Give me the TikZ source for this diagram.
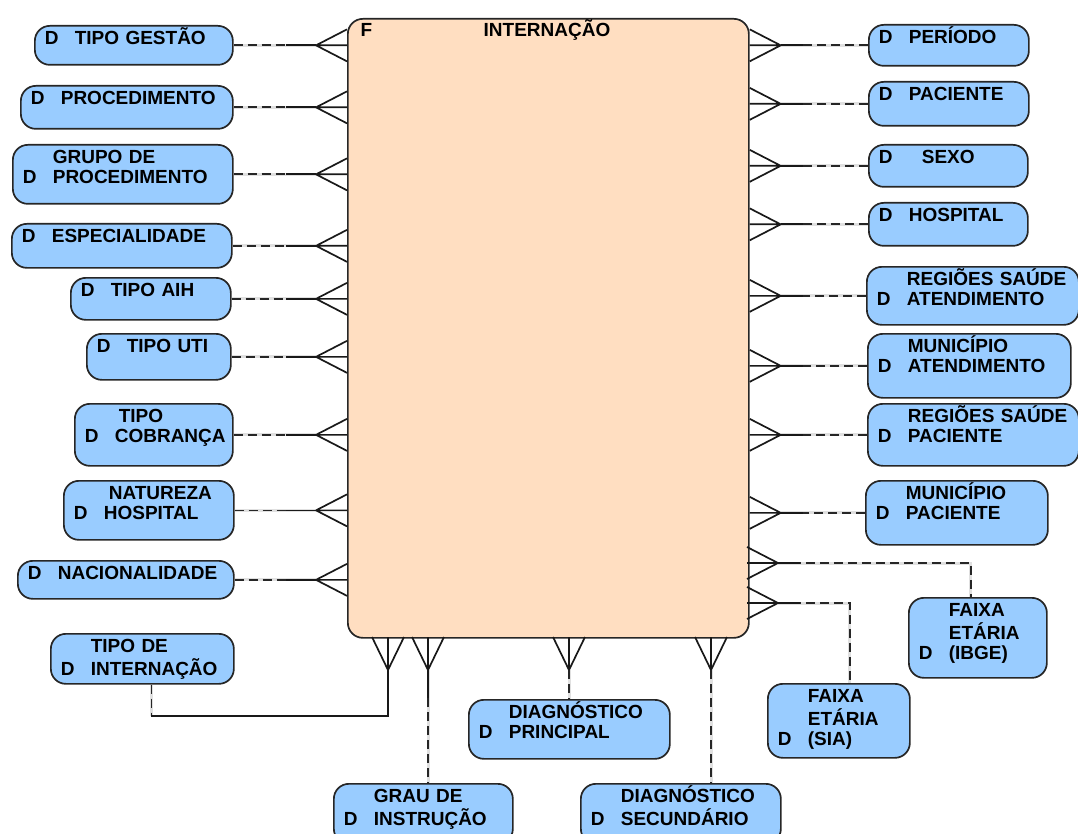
\documentclass[tikz,border=0pt]{standalone}
\usepackage{fontspec}
\setmainfont{Liberation Sans}
\usetikzlibrary{calc}
\definecolor{dimblue}{RGB}{153,204,255}
\definecolor{factpeach}{RGB}{255,222,193}
\newcommand{\dimone}[1]{\begin{tabular}[t]{@{}p{30pt}@{}l@{}}D & #1\end{tabular}}
\newcommand{\dimtwo}[2]{\begin{tabular}[t]{@{}p{30pt}@{}l@{}} & #1\\ D & #2\end{tabular}}
\newcommand{\dimthree}[3]{\begin{tabular}[t]{@{}p{30pt}@{}l@{}} & #1\\ & #2\\ D & #3\end{tabular}}
\begin{document}
\begin{tikzpicture}[x=1pt, y=-1pt, font=\fontsize{19}{20}\selectfont\bfseries,
  dim/.style={draw=black!85, fill=dimblue, line width=1.7pt, rounded corners=15pt, anchor=north west,
    inner xsep=10pt, inner ysep=5pt, align=left, text height=14pt},
  fact/.style={draw=black!85, fill=factpeach, line width=1.7pt, rounded corners=15pt, anchor=north west, inner sep=0pt},
  crow/.style={black!90, line width=1.7pt},
  rel/.style={black!85, line width=1.7pt, dash pattern=on 9pt off 5pt,
    preaction={draw=black!12, solid, line width=3pt}}]
\useasboundingbox (0,0) rectangle (1078,834);

% fact table
\node[fact, minimum width=401pt, minimum height=619pt] (fact) at (347,18) {};
\node[anchor=base west] (factF) at (357,37) {F};
\node[anchor=base] (facttitle) at (547,37) {INTERNAÇÃO};

% dimensions, left
\node[dim, text width=178pt, text depth=15pt] (tgestao) at (34,25) {\dimone{TIPO GESTÃO}};
\node[dim, text width=192pt, text depth=19pt] (proc) at (20,85) {\dimone{PROCEDIMENTO}};
\node[dim, text width=200pt, text depth=35pt] (gproc) at (12,144) {\dimtwo{GRUPO DE}{PROCEDIMENTO}};
\node[dim, text width=200pt, text depth=20pt] (espec) at (11,223) {\dimone{ESPECIALIDADE}};
\node[dim, text width=140pt, text depth=18pt] (aih) at (70,277) {\dimone{TIPO AIH}};
\node[dim, text width=124pt, text depth=22pt] (uti) at (86,333) {\dimone{TIPO UTI}};
\node[dim, text width=138pt, text depth=38pt] (cobr) at (74,403) {\dimtwo{\hspace{4pt}TIPO}{COBRANÇA}};
\node[dim, text width=150pt, text depth=35pt] (natur) at (63,480) {\dimtwo{\hspace{5pt}NATUREZA}{HOSPITAL}};
\node[dim, text width=196pt, text depth=14pt] (nacio) at (17,560) {\dimone{NACIONALIDADE}};
\node[dim, text width=163pt, text depth=26pt] (tinter) at (50,633) {\dimtwo{TIPO DE}{INTERNAÇÃO}};

% dimensions, right
\node[dim, text width=140pt, text depth=17pt] (periodo) at (868,24) {\dimone{PERÍODO}};
\node[dim, text width=140pt, text depth=20pt] (pac) at (868,81) {\dimone{PACIENTE}};
\node[dim, text width=139pt, text depth=18pt] (sexo) at (868,144) {\dimone{\hspace{13pt}SEXO}};
\node[dim, text width=139pt, text depth=19pt] (hosp) at (868,202) {\dimone{HOSPITAL}};
\node[dim, text width=192pt, text depth=34pt] (regat) at (866,266) {\dimtwo{REGIÕES SAÚDE}{ATENDIMENTO}};
\node[dim, text width=183pt, text depth=40pt] (munat) at (867,333) {\dimtwo{MUNICÍPIO}{ATENDIMENTO}};
\node[dim, text width=191pt, text depth=38pt] (regpac) at (867,403) {\dimtwo{REGIÕES SAÚDE}{PACIENTE}};
\node[dim, text width=162pt, text depth=40pt] (munpac) at (865,480) {\dimtwo{MUNICÍPIO}{PACIENTE}};
\node[dim, text width=118pt, text depth=56pt] (fxibge) at (908,597) {\dimthree{FAIXA}{ETÁRIA}{(IBGE)}};
\node[dim, text width=122pt, text depth=50pt] (fxsia) at (767,683) {\dimthree{FAIXA}{ETÁRIA}{(SIA)}};

% dimensions, bottom
\node[dim, text width=159pt, text depth=36pt] (grau) at (333,783) {\dimtwo{GRAU DE}{INSTRUÇÃO}};
\node[dim, text width=181pt, text depth=35pt] (dprin) at (468,699) {\dimtwo{DIAGNÓSTICO}{PRINCIPAL}};
\node[dim, text width=180pt, text depth=36pt] (dsec) at (580,783) {\dimtwo{DIAGNÓSTICO}{SECUNDÁRIO}};

% left relations
\foreach \n in {tgestao,proc,gproc,espec,aih,uti,cobr,natur,nacio}
{
\coordinate (\n-a) at ($(\n.east -| fact.west)+(-31,0)$);
\draw[rel] (\n.east) -- (\n-a);
\draw[crow] (\n-a) -- ++(-30,0);
\draw[crow] (\n-a) -- ++(31,-16) (\n-a) -- ++(31,0) (\n-a) -- ++(31,16);
}

% right relations
\foreach \n in {periodo,pac,sexo,hosp,regat,munat,regpac,munpac}
{
\coordinate (\n-a) at ($(\n.west -| fact.east)+(31,0)$);
\draw[rel] (\n.west) -- (\n-a);
\draw[crow] (\n-a) -- ++(22,0);
\draw[crow] (\n-a) -- ++(-31,-16) (\n-a) -- ++(-31,0) (\n-a) -- ++(-31,16);
}
\coordinate (fxibge-a) at (778,563);
\coordinate (fxsia-a) at (778,603);
\draw[rel] (fxibge-a) -| ([xshift=-7pt]fxibge.north);
\draw[rel] (fxsia-a) -| ([xshift=11pt]fxsia.north);
\foreach \n in {fxibge,fxsia}
{
\draw[crow] (\n-a) -- ++(22,0);
\draw[crow] (\n-a) -- ++(-31,-16) (\n-a) -- ++(-31,0) (\n-a) -- ++(-31,16);
}

% bottom relations
\foreach \n/\x in {tinter/388,grau/428,dprin/569,dsec/711}
{
\coordinate (\n-a) at (\x,670);
\draw[crow] (\n-a) -- ++(-16,-33) (\n-a) -- ++(0,-33) (\n-a) -- ++(16,-33);
}
\coordinate (tinter-k) at (388,716);
\draw[rel] ([xshift=9pt]tinter.south) -- ([xshift=9pt]tinter.south |- tinter-k);
\draw[crow] ([xshift=9pt]tinter.south |- tinter-k) -- (tinter-k) -- (tinter-a);
\draw[rel] (grau-a) -- (grau-a |- grau.north);
\draw[crow] (grau-a) -- ++(0,28);
\draw[rel] (dprin-a) -- (dprin-a |- dprin.north);
\draw[rel] (dsec-a) -- (dsec-a |- dsec.north);
\end{tikzpicture}
\end{document}
